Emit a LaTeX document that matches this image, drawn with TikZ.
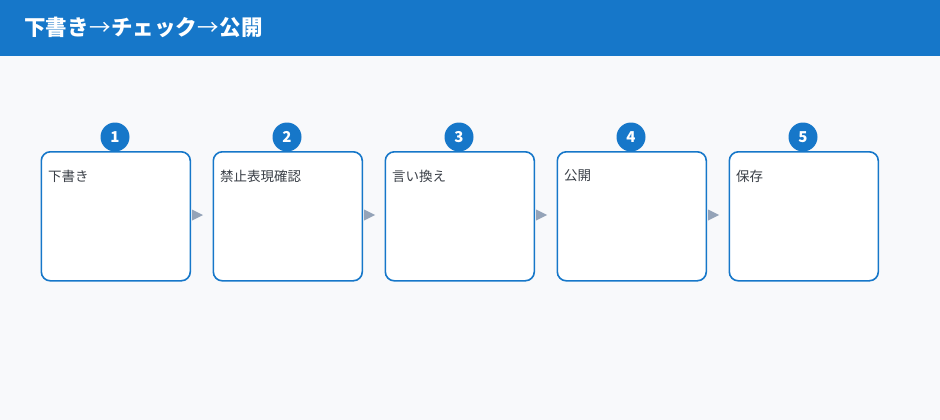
\documentclass[tikz,border=0pt]{standalone}
\usepackage{fontspec}
\newfontfamily\cjk{Noto Sans CJK JP}
\setmainfont{Noto Sans}
\definecolor{hdr}{HTML}{1677C9}
\definecolor{bg}{HTML}{F8F9FB}
\definecolor{txt}{HTML}{3A3F47}
\definecolor{arr}{HTML}{94A3B8}
\newcommand{\harr}{\makebox[1.05em]{→}}
\tikzset{
  stepbox/.style={draw=hdr, line width=1.6pt, fill=white, rounded corners=9pt, minimum width=149pt, minimum height=129pt, anchor=north west, inner sep=0pt},
  badge/.style={circle, fill=hdr, minimum size=29pt, inner sep=0pt, text=white, font=\cjk\bfseries\fontsize{15}{15}\selectfont},
  lbl/.style={anchor=west, text=txt, font=\cjk\fontsize{13.5}{13.5}\selectfont, inner sep=0pt},
  tri/.style={fill=arr, draw=none}
}
\begin{document}
\begin{tikzpicture}[x=1pt,y=-1pt]
\useasboundingbox (0,0) rectangle (940,420);
\fill[bg] (0,0) rectangle (940,420);
\fill[hdr] (0,0) rectangle (940,56);
\node[anchor=west, text=white, font=\cjk\fontsize{21.5}{21.5}\selectfont, inner sep=0pt] (title) at (24,27) {{\bfseries 下書き}\harr{\bfseries チェック}\harr{\bfseries 公開}};
\foreach \i/\t in {1/下書き,2/禁止表現確認,3/言い換え,4/公開,5/保存}{
  \pgfmathsetmacro{\xx}{40.5+172*(\i-1)}
  \node[stepbox] (b\i) at (\xx,151) {};
  \node[badge] (c\i) at (\xx+74.5,137) {\i};
  \node[lbl] (t\i) at (\xx+7.5,176) {\t};
}
\foreach \i in {1,2,3,4}{
  \pgfmathsetmacro{\ax}{40.5+172*(\i-1)+151.5}
  \fill[tri] (\ax,209.5) -- (\ax+11,215) -- (\ax,220.5) -- cycle;
}
\end{tikzpicture}
\end{document}
